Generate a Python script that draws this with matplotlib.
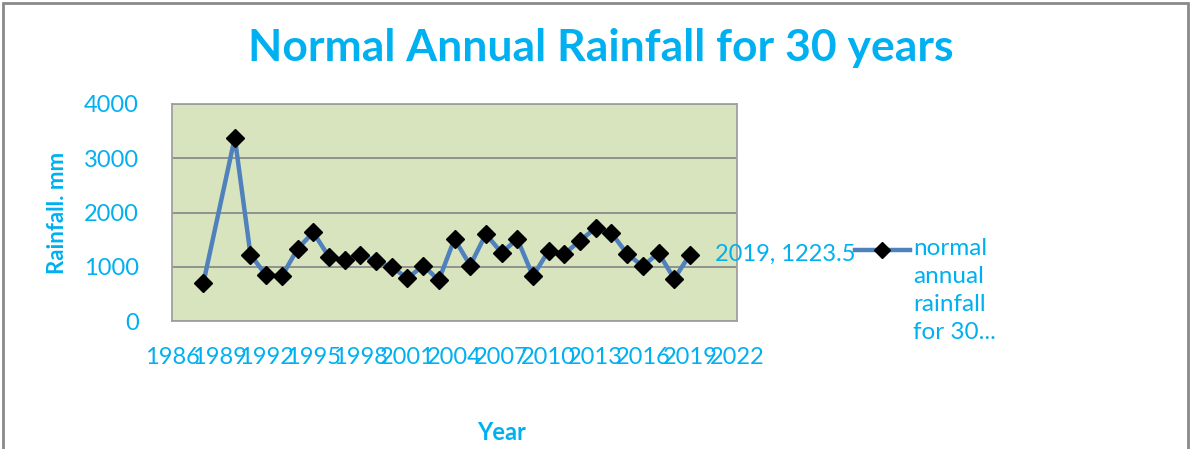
import matplotlib.pyplot as plt
from matplotlib.lines import Line2D
from matplotlib.patches import Rectangle

# yearly rainfall values (1989 is missing in the source)
years = [1988, 1990, 1991, 1992, 1993, 1994, 1995, 1996, 1997, 1998, 1999,
         2000, 2001, 2002, 2003, 2004, 2005, 2006, 2007, 2008, 2009, 2010,
         2011, 2012, 2013, 2014, 2015, 2016, 2017, 2018, 2019]
rainfall = [704, 3380, 1225, 839, 827, 1329, 1635, 1182, 1121, 1225, 1102,
            998, 784, 1023, 753, 1513, 1023, 1604, 1255, 1513, 827, 1298,
            1237, 1482, 1715, 1623, 1237, 1010, 1255, 778, 1223.5]
x_ticks = list(range(1986, 2023, 3))
y_ticks = [0, 1000, 2000, 3000, 4000]
series_label = "normal\nannual\nrainfall\nfor 30..."

cyan = "#00B0F0"
plt.rcParams['font.family'] = ['Lato', 'DejaVu Sans']

W, H = 1192, 449
fig = plt.figure(figsize=(W / 100, H / 100), dpi=100)
# plot area in pixels: left 172, right 737, top 104, bottom 321
ax = fig.add_axes([172 / W, 1 - 321 / H, (737 - 172) / W, (321 - 104) / H])
ax.set_facecolor("#D7E4BD")

ax.plot(years, rainfall, color="#4F81BD", lw=3.2, marker="D", ms=9,
        mfc="black", mec="black", zorder=3)

ax.set_xlim(1986, 2022)
ax.set_ylim(0, 4000)
ax.set_xticks(x_ticks)
ax.set_yticks(y_ticks)
ax.tick_params(length=0, labelsize=17, labelcolor=cyan)
ax.tick_params(axis="x", pad=19)
ax.tick_params(axis="y", pad=24)
ax.grid(axis="y", color="#8C8C8C", lw=1.3)
ax.set_axisbelow(True)
for s in ax.spines.values():
    s.set_color("#A0A0A0")
    s.set_linewidth(1.3)

# data label on the last point
ax.annotate(f"{years[-1]}, {rainfall[-1]}", (years[-1], rainfall[-1]),
            xytext=(18, 0), textcoords="offset points", va="center",
            ha="left", fontsize=17, color=cyan, annotation_clip=False)

fig.text(601 / W, 1 - 48 / H, "Normal Annual Rainfall for 30 years",
         ha="center", va="center", fontsize=32, fontweight="bold", color=cyan)
fig.text(58 / W, 1 - 213 / H, "Rainfall. mm", rotation=90, ha="center",
         va="center", fontsize=16, fontweight="bold", color=cyan)
fig.text(502 / W, 1 - 433 / H, "Year", ha="center", va="center",
         fontsize=17, fontweight="bold", color=cyan)

# legend drawn by hand so the key lines up with the first text row
fig.add_artist(Line2D([855 / W, 910 / W], [1 - 250 / H, 1 - 250 / H],
                      color="#4F81BD", lw=3.2, transform=fig.transFigure))
fig.add_artist(Line2D([882 / W], [1 - 250 / H], marker="D", ms=8,
                      mfc="black", mec="black", transform=fig.transFigure))
fig.text(913 / W, 1 - 238 / H, series_label, ha="left", va="top",
         fontsize=17.5, color=cyan, linespacing=1.42)

# outer chart border
fig.add_artist(Rectangle((3 / W, -0.05), (1188 - 3) / W, 1 - 3 / H + 0.05,
                         transform=fig.transFigure, fill=False,
                         ec="#8A8A8A", lw=2))

fig.savefig("out.png", dpi=100)
